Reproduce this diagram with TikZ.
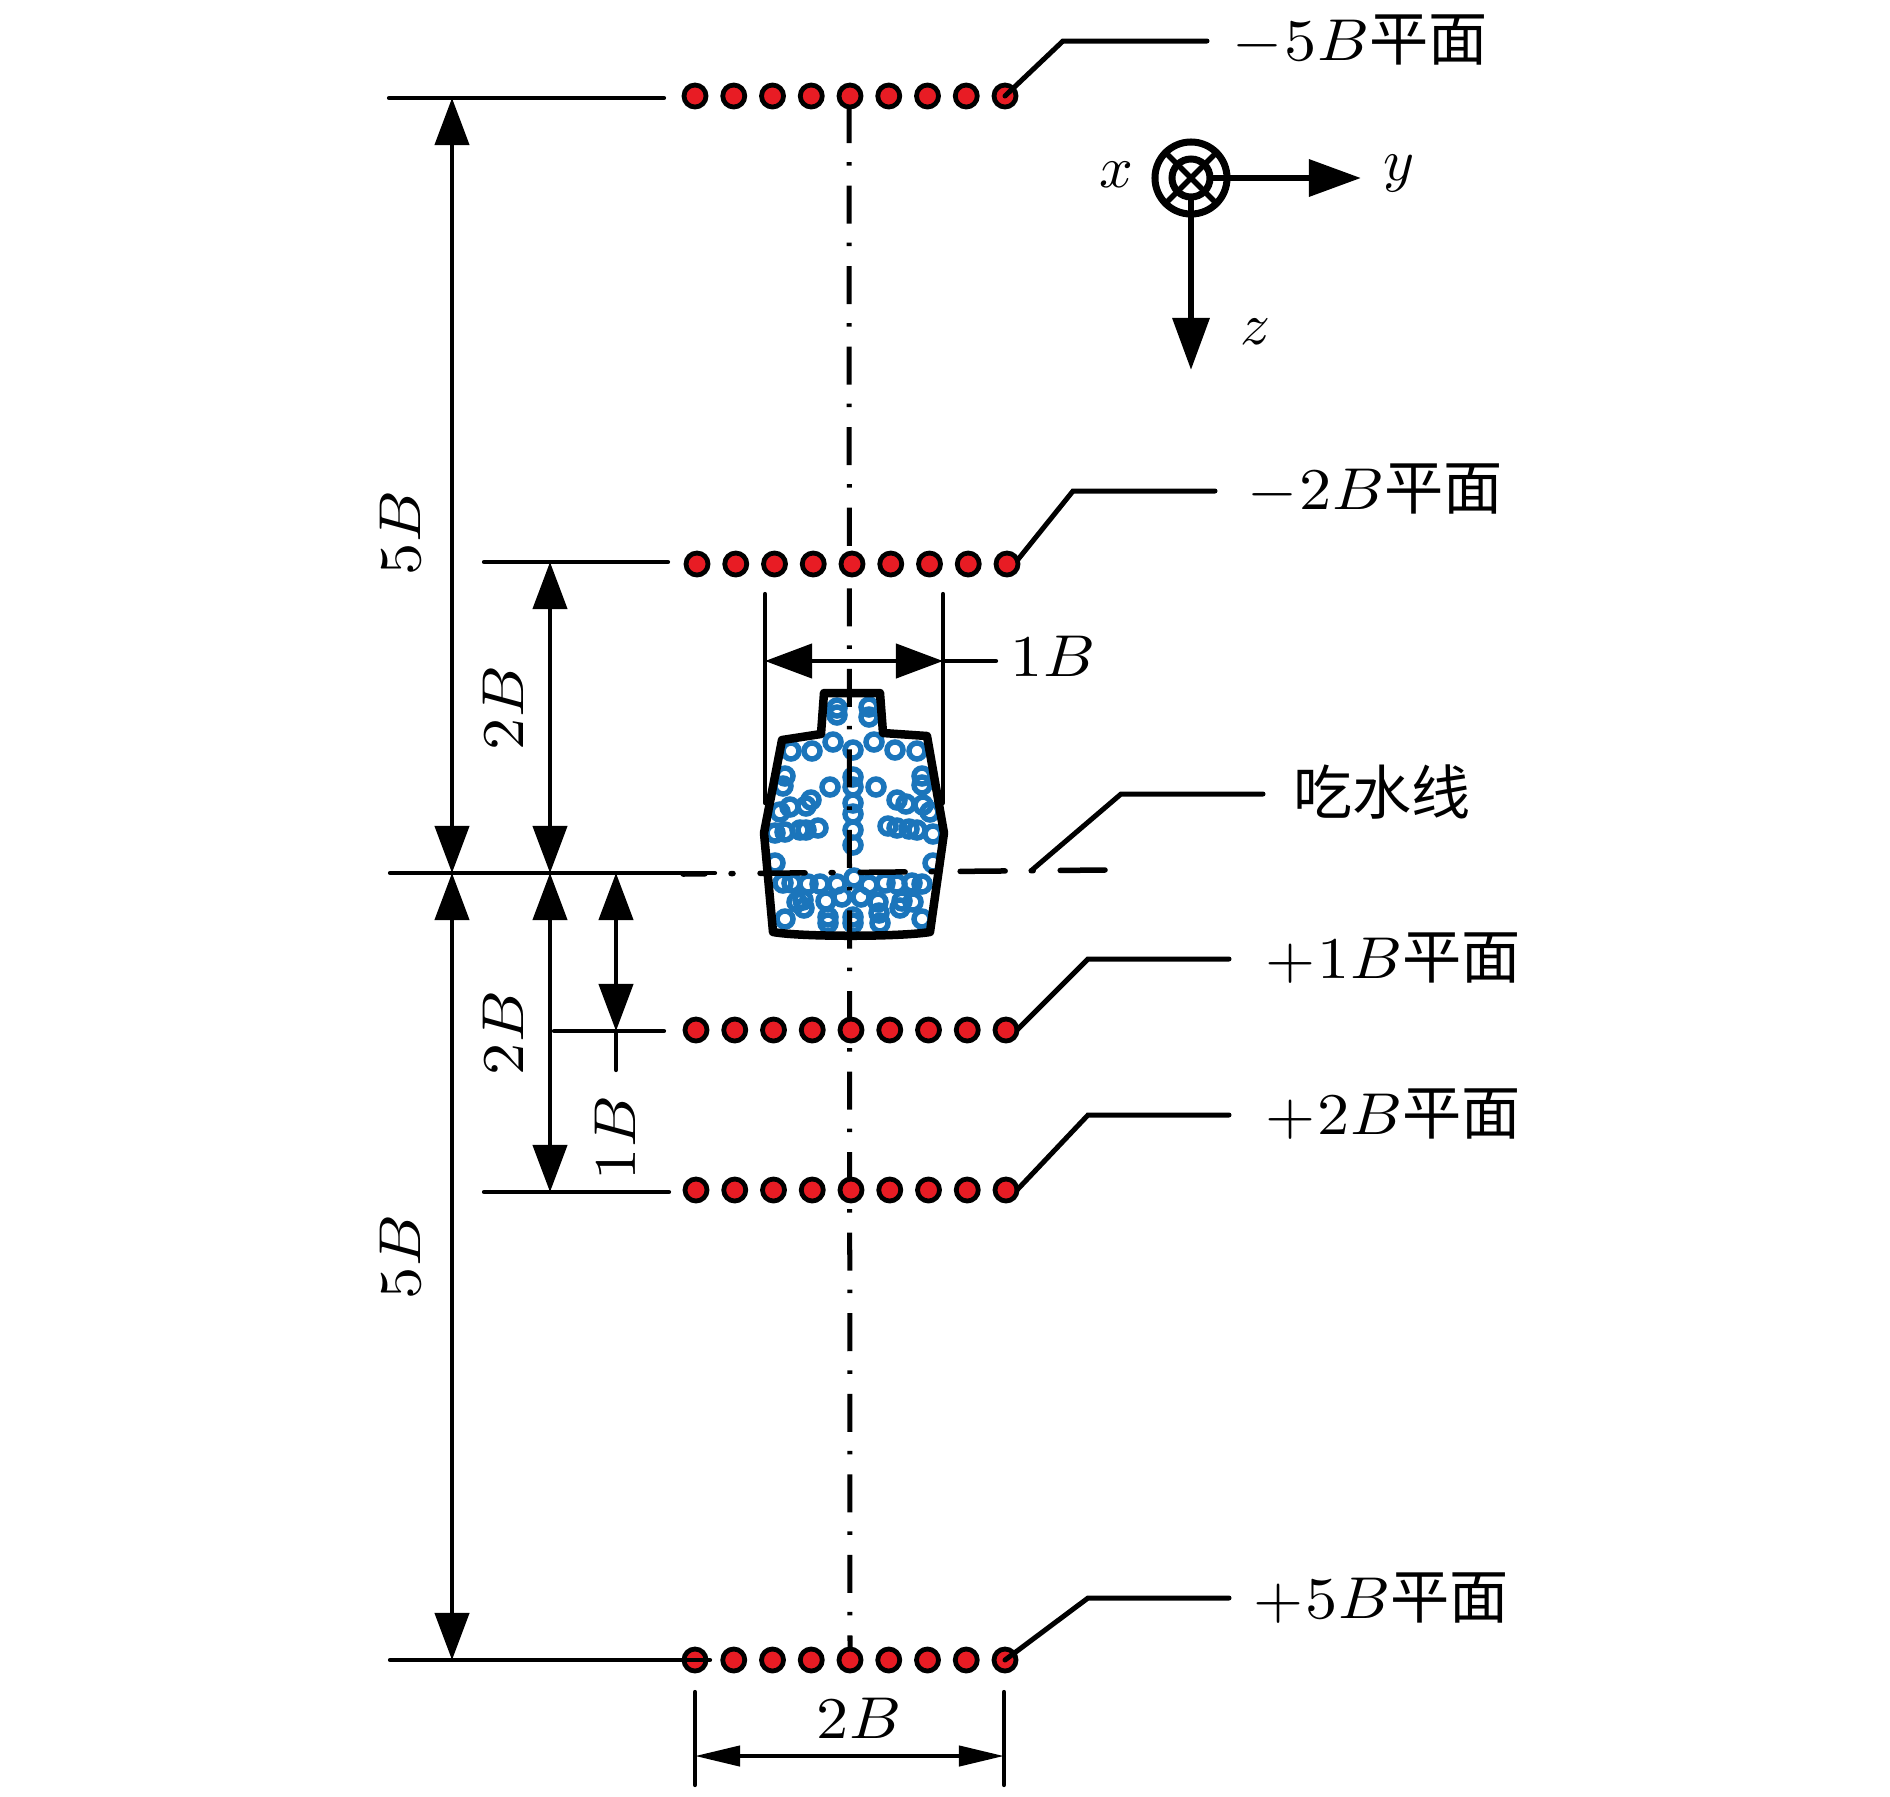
\documentclass[tikz,border=0pt]{standalone}
\usepackage{fontspec}
\usepackage{amsmath}
\usepackage{xcolor}
\usepackage{tikz}
\usetikzlibrary{arrows.meta}
\newfontfamily\cjk{Noto Sans CJK SC}
\newcommand\pingmian{\scalebox{0.92}[1]{\cjk 平面}}
\definecolor{dotred}{HTML}{E81C24}
\definecolor{ptblue}{HTML}{1B75BB}
\tikzset{
  txt/.style={inner sep=0pt,outer sep=0pt,xscale=1.83,yscale=1.68,transform shape},
  axlabel/.style={inner sep=0pt,outer sep=0pt,scale=1.68,transform shape},
  plane/.style={txt,anchor=base west},
  thinline/.style={line width=0.042cm,line cap=round},
  leader/.style={line width=0.05cm,line cap=round,line join=miter},
  dimarrow/.style={thinline,<->,>={Triangle[length=0.47cm,width=0.34cm]}},
  wpdot/.style={circle,draw=black,fill=dotred,line width=0.048cm,minimum size=0.22cm,inner sep=0pt,outer sep=0pt},
  hullpt/.style={draw=ptblue,line width=0.055cm}
}
\begin{document}
\begin{tikzpicture}[x=0.01cm,y=-0.01cm]
      \path[use as bounding box] (0,0) rectangle (1890,1796);

      \coordinate (ExtTopL) at (389, 98);
      \coordinate (ExtTopR) at (664, 98);
      \coordinate (ExtTwoL) at (484, 562);
      \coordinate (ExtTwoR) at (668, 562);
      \coordinate (WlL) at (390, 873);
      \coordinate (WlR) at (715, 873);
      \coordinate (ExtOneL) at (554, 1031);
      \coordinate (ExtOneR) at (664, 1031);
      \coordinate (ExtPtwoL) at (484, 1192);
      \coordinate (ExtPtwoR) at (669, 1192);
      \coordinate (ExtBotL) at (390, 1660);
      \coordinate (ExtBotR) at (710, 1660);

      \coordinate (OutA) at (452, 98);
      \coordinate (OutB) at (452, 873);
      \coordinate (OutC) at (452, 1660);
      \coordinate (InA) at (550, 562);
      \coordinate (InB) at (550, 873);
      \coordinate (InC) at (550, 1192);
      \coordinate (OneA) at (616, 873);
      \coordinate (OneB) at (616, 1031);
      \coordinate (OneC) at (616, 1070);

      \coordinate (BeamLt) at (765, 594);
      \coordinate (BeamLb) at (765, 803);
      \coordinate (BeamRt) at (943, 594);
      \coordinate (BeamRb) at (943, 803);
      \coordinate (BeamL) at (765, 661);
      \coordinate (BeamR) at (943, 661);
      \coordinate (BeamE) at (996, 661);

      \coordinate (WidLt) at (695, 1692);
      \coordinate (WidLb) at (695, 1785);
      \coordinate (WidRt) at (1004, 1692);
      \coordinate (WidRb) at (1004, 1785);
      \coordinate (WidL) at (695, 1756);
      \coordinate (WidR) at (1004, 1756);

      \coordinate (CentT) at (849, 105);
      \coordinate (CentB) at (850, 1650);
      \coordinate (WaterL) at (683, 874);
      \coordinate (WaterR) at (1105, 870);

      % points on the section
      \foreach \px/\py in {837/708,837/715,869/707,869/717,
        791/751,812/751,833/742,853/750,874/742,895/750,917/751,
        785/776,783/786,922/776,922/785,830/787,876/787,
        853/777,853/787,853/803,853/814,853/830,853/845,
        780/812,790/807,806/806,811/800,897/800,906/804,923/805,930/812,
        775/833,785/832,800/830,806/830,818/828,
        888/826,897/828,909/829,917/830,933/834,775/863,933/863,
        783/883,792/883,808/884,820/884,837/884,854/878,869/885,885/883,897/884,912/883,922/884,
        797/902,803/900,804/908,826/901,842/897,861/897,878/902,902/901,900/908,913/902,
        828/917,828/923,853/917,853/923,879/913,880/923,785/919,922/919}
        \draw[hullpt] (\px,\py) circle (8);

      % section outline
      \draw[line width=0.085cm,line join=round]
        (824,693) -- (880,693) -- (883,733) -- (927,736) -- (944,833) -- (930,932)
        .. controls (900,937) and (800,937) .. (773,932)
        -- (764,833) -- (782,740) -- (821,734) -- cycle;

      \draw[line width=0.05cm,dash pattern=on 0.38cm off 0.19cm on 0.035cm off 0.2cm] (CentT) -- (CentB);
      \draw[line width=0.055cm,line cap=round,dash pattern=on 0.45cm off 0.26cm on 0.02cm off 0.27cm,dash phase=0.23cm] (WaterL) -- (WaterR);

      \draw[thinline] (ExtTopL) -- (ExtTopR);
      \draw[thinline] (ExtTwoL) -- (ExtTwoR);
      \draw[thinline] (WlL) -- (WlR);
      \draw[thinline] (ExtOneL) -- (ExtOneR);
      \draw[thinline] (ExtPtwoL) -- (ExtPtwoR);

      % wave cut points
      \foreach \r/\xs/\y in {mf/695/96,mt/697/564,po/696/1030,pt/696/1190,pf/695/1660}
        \foreach \i in {1,...,9}
          \node[wpdot] (\r\i) at ({\xs+38.75*(\i-1)},\y) {};

      \draw[thinline] (ExtBotL) -- (ExtBotR);

      \draw[dimarrow] (OutA) -- (OutB);
      \draw[dimarrow] (OutB) -- (OutC);
      \draw[dimarrow] (InA) -- (InB);
      \draw[dimarrow] (InB) -- (InC);
      \draw[dimarrow] (OneA) -- (OneB);
      \draw[thinline] (OneB) -- (OneC);

      \draw[thinline] (BeamLt) -- (BeamLb);
      \draw[thinline] (BeamRt) -- (BeamRb);
      \draw[dimarrow] (BeamL) -- (BeamR);
      \draw[thinline] (BeamR) -- (BeamE);

      \draw[thinline] (WidLt) -- (WidLb);
      \draw[thinline] (WidRt) -- (WidRb);
      \draw[thinline,<->,>={Triangle[length=0.45cm,width=0.2cm]}] (WidL) -- (WidR);

      \node[rotate=90,txt] (fiveup) at (400,533) {$5B$};
      \node[rotate=90,txt] (fivedn) at (400,1257) {$5B$};
      \node[rotate=90,txt] (twoup) at (503,708) {$2B$};
      \node[rotate=90,txt] (twodn) at (503,1033) {$2B$};
      \node[rotate=90,txt] (onedn) at (615,1138) {$1B$};
      \node[txt] (oneb) at (1053,656) {$1B$};
      \node[txt] (twob) at (859,1718) {$2B$};

      % leaders
      \coordinate (LmfA) at (1063, 41);
      \coordinate (LmfB) at (1207, 41);
      \coordinate (LmtA) at (1073, 491);
      \coordinate (LmtB) at (1215, 491);
      \coordinate (LwlS) at (1032, 870);
      \coordinate (LwlA) at (1121, 794);
      \coordinate (LwlB) at (1263, 794);
      \coordinate (LpoA) at (1088, 959);
      \coordinate (LpoB) at (1229, 959);
      \coordinate (LptA) at (1088, 1115);
      \coordinate (LptB) at (1229, 1115);
      \coordinate (LpfA) at (1088, 1598);
      \coordinate (LpfB) at (1229, 1598);

      \draw[leader] (mf9.center) -- (LmfA) -- (LmfB);
      \draw[leader] (mt9.20) -- (LmtA) -- (LmtB);
      \draw[leader] (LwlS) -- (LwlA) -- (LwlB);
      \draw[leader] (po9.east) -- (LpoA) -- (LpoB);
      \draw[leader] (pt9.east) -- (LptA) -- (LptB);
      \draw[leader] (pf9.center) -- (LpfA) -- (LpfB);

      \node[plane] (lblmf) at (1232,60) {$-\mkern0.8mu 5B$\pingmian};
      \node[plane] (lblmt) at (1247,509) {$-\mkern0.8mu 2B$\pingmian};
      \node[plane] (lblpo) at (1265,978) {$+\mkern0.8mu 1B$\pingmian};
      \node[plane] (lblpt) at (1265,1134) {$+\mkern0.8mu 2B$\pingmian};
      \node[plane] (lblpf) at (1253,1618) {$+\mkern0.8mu 5B$\pingmian};
      \node[axlabel] (lblwl) at (1382,792) {\cjk 吃水线};

      % axes
      \node[circle,draw,line width=0.07cm,minimum size=0.72cm,inner sep=0pt,outer sep=0pt] (axout) at (1191,178) {};
      \node[circle,draw,line width=0.07cm,minimum size=0.38cm,inner sep=0pt,outer sep=0pt] (axin) at (1191,178) {};
      \draw[line width=0.055cm] (axout.45) -- (axout.225);
      \draw[line width=0.055cm] (axout.135) -- (axout.315);
      \coordinate (AxY) at (1361,178);
      \coordinate (AxZ) at (1191,370);
      \draw[line width=0.065cm,->,>={Triangle[length=0.52cm,width=0.36cm]}] (axin.east) -- (AxY);
      \draw[line width=0.065cm,->,>={Triangle[length=0.52cm,width=0.36cm]}] (axin.south) -- (AxZ);
      \node[axlabel] (axx) at (1116,175) {$x$};
      \node[axlabel] (axy) at (1399,174) {$y$};
      \node[axlabel] (axz) at (1256,332) {$z$};
\end{tikzpicture}
\end{document}
